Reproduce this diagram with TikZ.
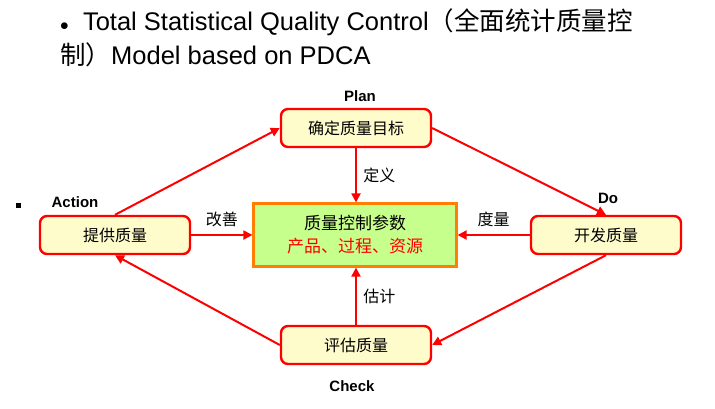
\documentclass[tikz,border=0pt]{standalone}
\usepackage{fontspec}
\setmainfont{Liberation Sans}
\newfontfamily\cjk{Noto Sans CJK SC}
\usetikzlibrary{positioning,arrows.meta}
\tikzset{
  stage/.style={draw=red, line width=2.4pt, rounded corners=7pt, fill=yellow!20,
    minimum width=150pt, minimum height=38pt, font=\cjk\fontsize{16}{18}\selectfont},
  core/.style={draw=orange, line width=2.2pt, fill=green!50!yellow!45,
    minimum width=203pt, minimum height=63pt, align=center, font=\cjk\fontsize{17}{23}\selectfont},
  flow/.style={draw=red, line width=2pt, -{Triangle[length=9pt,width=9pt]}},
  tag/.style={font=\bfseries\fontsize{15}{17}\selectfont},
  note/.style={font=\cjk\fontsize{16}{18}\selectfont}
}
\begin{document}
\begin{tikzpicture}[x=1pt,y=-1pt]
\useasboundingbox (0,0) rectangle (715,408);
% heading
\node[anchor=north west, align=left, inner sep=0pt, font=\fontsize{25.5}{34}\selectfont] (title) at (60,8)
  {{\fontsize{18}{20}\selectfont$\bullet$}\ \ Total Statistical Quality Control{\cjk（全面统计质量控}\\ {\cjk 制）}Model based on PDCA};
\node[fill=black, minimum size=5pt, inner sep=0pt] (dot) at (18,205) {};
% stages
\node[stage] (plan) at (356,128) {确定质量目标};
\node[stage] (do) at (606,235) {开发质量};
\node[stage] (check) at (356,345) {评估质量};
\node[stage] (act) at (115,235) {提供质量};
\node[core] (param) at (355,235) {质量控制参数\\ \textcolor{red}{产品、过程、资源}};
% stage names
\node[tag] (lplan) at (360,96) {Plan};
\node[tag] (ldo) at (608,198) {Do};
\node[tag] (lcheck) at (352,386) {Check};
\node[tag] (lact) at (75,202) {Action};
% cycle
\draw[flow] (act.north) -- (plan.west);
\draw[flow] (plan.east) -- (do.north);
\draw[flow] (do.south) -- (check.east);
\draw[flow] (check.west) -- (act.south);
% links to the parameters
\draw[flow] (plan.south) -- node[note, right=3pt] {定义} (param.north -| plan.south);
\draw[flow] (do) -- node[note, above=4pt] {度量} (param);
\draw[flow] (check.north) -- node[note, right=3pt] {估计} (param.south -| check.north);
\draw[flow] (act) -- node[note, above=4pt] {改善} (param);
\end{tikzpicture}
\end{document}
